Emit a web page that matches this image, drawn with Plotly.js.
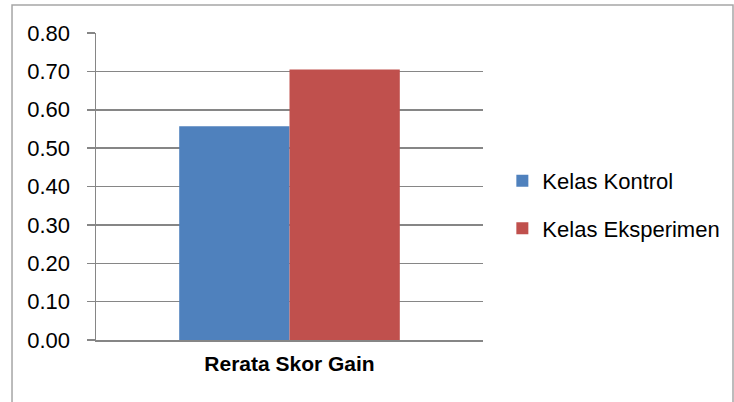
<!DOCTYPE html>
<html>
<head>
<meta charset="utf-8">
<script src="https://cdn.plot.ly/plotly-3.0.1.min.js"></script>
<style>html,body{margin:0;padding:0;background:#fff;}#chart{width:734px;height:402px;}</style>
</head>
<body>
<div id="chart"></div>
<script>
const categories = ["Rerata Skor Gain"];
const seriesNames = ["Kelas Kontrol", "Kelas Eksperimen"];
const kontrolValues = [0.557];
const eksperimenValues = [0.705];
const yTickValues = [0, 0.1, 0.2, 0.3, 0.4, 0.5, 0.6, 0.7, 0.8];

const font = "'Liberation Sans', Arial, sans-serif";
const traces = [
  {type: "bar", name: seriesNames[0], x: categories, y: kontrolValues,
   marker: {color: "#4F81BD"}, legendgroup: "a", hoverinfo: "none"},
  {type: "bar", name: seriesNames[1], x: categories, y: eksperimenValues,
   marker: {color: "#C0504D"}, legendgroup: "b", hoverinfo: "none"}
];
const layout = {
  width: 734, height: 402,
  margin: {l: 96, r: 251, t: 33, b: 62, pad: 0, autoexpand: false},
  paper_bgcolor: "#fff", plot_bgcolor: "#fff",
  font: {family: font, size: 22, color: "#000"},
  barmode: "group", bargap: 0.43, bargroupgap: 0,
  xaxis: {
    showline: true, linecolor: "#868686", linewidth: 1.5,
    ticks: "", showgrid: false, zeroline: false,
    tickfont: {family: font, size: 21, color: "#000", weight: "bold"},
    ticklabelstandoff: 4
  },
  yaxis: {
    range: [0, 0.8], tickvals: yTickValues, tickformat: ".2f",
    showgrid: true, gridcolor: "#868686", gridwidth: 1.5,
    showline: true, linecolor: "#868686", linewidth: 1.5,
    ticks: "outside", ticklen: 8, tickcolor: "#868686", tickwidth: 1.5,
    zeroline: false, ticklabelstandoff: 12,
    tickfont: {family: font, size: 22, color: "#000"}
  },
  showlegend: true,
  legend: {
    x: 1.05, y: 0.44, xanchor: "left", yanchor: "middle",
    traceorder: "grouped", tracegroupgap: 16,
    font: {family: font, size: 22, color: "#000"},
    bgcolor: "rgba(0,0,0,0)"
  },
  shapes: [{
    type: "rect", xref: "paper", yref: "paper",
    x0: -0.217, x1: 1.646, y0: -0.4, y1: 1.091,
    line: {color: "#a6a6a6", width: 1.5}, layer: "below"
  }]
};
Plotly.newPlot("chart", traces, layout, {staticPlot: true});
</script>
</body>
</html>
